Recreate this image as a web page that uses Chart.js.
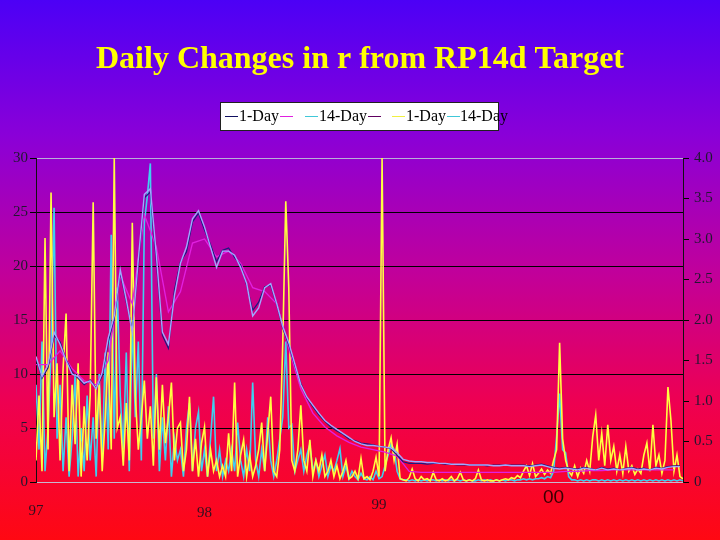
<!DOCTYPE html>
<html>
<head>
<meta charset="utf-8">
<script src="https://cdn.jsdelivr.net/npm/chart.js@4"></script>
<style>
  html, body { margin: 0; padding: 0; }
  #wrap {
    position: relative; width: 720px; height: 540px; overflow: hidden;
    background: linear-gradient(to bottom, #4c00f6 0%, #8a00d8 25%, #c0009c 50%, #ef0050 75%, #ff0812 100%);
  }
  #chart { position: absolute; left: 0; top: 0; }
  #legend {
    position: absolute; left: 220px; top: 102px; width: 277px; height: 27px;
    background: #fff; border: 1px solid #202020;
    font-family: 'Liberation Serif', serif; font-size: 16px; color: #000;
  }
  #legend .ln { position: absolute; top: 13px; width: 13px; height: 1px; }
  #legend .tx { position: absolute; top: 5px; line-height: 16px; white-space: nowrap; }
</style>
</head>
<body>
<div id="wrap">
  <canvas id="chart" width="720" height="540"></canvas>
  <div id="legend">
    <span class="ln" style="left:4px;background:#101060"></span><span class="tx" style="left:18px">1-Day</span>
    <span class="ln" style="left:59px;background:#e020e0"></span>
    <span class="ln" style="left:84px;background:#40c8d8"></span><span class="tx" style="left:98px">14-Day</span>
    <span class="ln" style="left:147px;background:#600060"></span>
    <span class="ln" style="left:171px;background:#f0f040"></span><span class="tx" style="left:185px">1-Day</span>
    <span class="ln" style="left:226px;background:#40c8d8"></span><span class="tx" style="left:239px">14-Day</span>
  </div>
</div>
<script>
/* Daily Changes in r from RP14d Target — 97..00 */

// x positions are sample indices; year ticks sit at these indices
const X_MAX = 215;
const yearLabels = ['97', '98', '99', '00'];
const yearIdx    = [0, 56, 114, 172];

// sample spacing (in index units) of each series
const SPIKE_STEP = 1;
const TRACE_STEP = 2;
const SMOOTH_STEP = 4;

// left axis (0-30): daily spikes
const yellow1Day = [
  2, 8, 1, 22.6, 3, 26.8, 6, 11, 2, 10.5,
  15.6, 1, 9, 3.5, 11, 0.5, 7, 2, 8, 25.9,
  4, 9, 1, 6, 12, 3, 30, 5, 6, 1.5,
  7.3, 2, 24, 8, 3, 6, 9.4, 4, 7, 1.5,
  9.7, 3, 9, 3.6, 6, 9.2, 2, 5, 5.5, 1,
  3, 7.9, 1, 4, 0.5, 3.6, 5.1, 0.5, 3, 1,
  2, 0.5, 1.5, 0.5, 4.5, 1, 9.2, 0.5, 2.5, 3.9,
  0.5, 2.5, 0.5, 1.5, 3, 5.5, 1, 4.5, 7.9, 1,
  0.5, 3, 12.9, 26, 18, 2, 1, 3, 7.1, 2,
  1, 3.9, 0.5, 2, 1, 2.5, 0.5, 1, 2, 0.5,
  1.5, 0.3, 1, 2, 0.3, 0.5, 1, 0.3, 2.2, 0.3,
  0.5, 0.2, 1, 2.3, 0.5, 30, 1, 3, 4.1, 2,
  3.5, 0.3, 0.2, 0.1, 0.4, 1.2, 0.3, 0.1, 0.5, 0.2,
  0.3, 0.1, 0.9, 0.2, 0.1, 0.3, 0.1, 0.2, 0.5, 0.1,
  0.3, 0.9, 0.2, 0.1, 0.2, 0.1, 0.3, 1.1, 0.2, 0.1,
  0.2, 0.1, 0.1, 0.2, 0.1, 0.2, 0.3, 0.2, 0.4, 0.3,
  0.6, 0.4, 1, 1.5, 0.6, 1.7, 0.5, 0.8, 1.2, 0.7,
  1.1, 0.8, 2, 3, 12.9, 4, 2, 1, 0.6, 1.5,
  0.5, 1.3, 0.8, 2, 1, 4.2, 6.2, 2, 4.5, 1.5,
  5.3, 2, 3.3, 1, 2.5, 0.8, 3.3, 1, 1.5, 0.7,
  1.2, 0.8, 2.5, 3.6, 1, 5.3, 1.5, 2.5, 0.8, 2,
  8.8, 5.7, 1, 2.5, 0.5, 0.3
];

const cyan14Day = [
  9, 3, 13, 1, 5, 12, 25.4, 4, 9, 1,
  6, 0.5, 4, 10, 0.5, 5, 1, 8, 2, 6,
  0.5, 10, 2, 12, 3, 22.9, 4, 18, 8, 3,
  12, 1, 15, 6, 13, 2, 24, 26.5, 29.5, 4,
  10, 1, 6, 2, 7, 0.5, 4, 2, 3, 0.5,
  5, 7.3, 1, 5, 6.5, 1, 3, 0.5, 4, 7.9,
  1, 3, 0.5, 2, 1, 3, 1, 5.5, 2, 0.5,
  3, 1, 9.2, 2, 0.5, 3, 1, 6, 2, 0.5,
  2, 4, 6, 13, 5, 5.3, 1, 2, 3, 1,
  2.5, 3.5, 1, 2, 0.5, 1.5, 2.5, 0.5, 1.5, 1,
  2, 3.1, 0.5, 1.5, 0.3, 1, 0.5, 0.2, 0.8, 0.3,
  0.2, 0.5, 0.2, 1, 0.3, 0.5, 1.5, 2.5, 3.5, 3,
  1, 0.3, 0.2, 0.2, 0.1, 0.2, 0.1, 0.2, 0.1, 0.2,
  0.1, 0.2, 0.2, 0.1, 0.2, 0.1, 0.2, 0.1, 0.2, 0.1,
  0.2, 0.1, 0.2, 0.1, 0.2, 0.1, 0.1, 0.2, 0.1, 0.2,
  0.1, 0.2, 0.1, 0.2, 0.1, 0.2, 0.1, 0.2, 0.2, 0.1,
  0.2, 0.2, 0.3, 0.2, 0.3, 0.2, 0.3, 0.3, 0.4, 0.3,
  0.5, 0.4, 1, 4.2, 8.2, 3, 2.7, 0.5, 0.2, 0.2,
  0.1, 0.2, 0.1, 0.2, 0.1, 0.2, 0.2, 0.1, 0.2, 0.1,
  0.2, 0.1, 0.2, 0.1, 0.2, 0.1, 0.2, 0.1, 0.2, 0.1,
  0.2, 0.1, 0.2, 0.1, 0.2, 0.1, 0.2, 0.1, 0.2, 0.1,
  0.2, 0.1, 0.2, 0.1, 0.2, 0.1
];

// right axis (0-4): running measures
const navy1Day = [
  1.53, 1.28, 1.41, 1.81, 1.73, 1.51, 1.36, 1.28, 1.2, 1.26,
  1.16, 1.31, 1.73, 2.02, 2.59, 2.22, 1.88, 2.68, 3.51, 3.58,
  2.72, 1.81, 1.65, 2.37, 2.72, 2.84, 3.21, 3.32, 3.11, 2.93,
  2.72, 2.86, 2.89, 2.77, 2.68, 2.43, 2.12, 2.22, 2.41, 2.43,
  2.19, 1.9, 1.69, 1.44, 1.22, 1.04, 0.93, 0.83, 0.75, 0.68,
  0.63, 0.59, 0.53, 0.51, 0.48, 0.47, 0.46, 0.44, 0.43, 0.41,
  0.33, 0.25, 0.23, 0.23, 0.23, 0.22, 0.23, 0.23, 0.22, 0.22,
  0.21, 0.21, 0.21, 0.21, 0.21, 0.2, 0.21, 0.21, 0.21, 0.21,
  0.21, 0.21, 0.2, 0.21, 0.22, 0.2, 0.18, 0.17, 0.18, 0.17,
  0.16, 0.18, 0.17, 0.15, 0.18, 0.16, 0.17, 0.15, 0.17, 0.18,
  0.16, 0.17, 0.15, 0.18, 0.17, 0.19, 0.2, 0.2
];

const lavender14Day = [
  1.55, 1.3, 1.45, 1.85, 1.7, 1.5, 1.33, 1.3, 1.22, 1.25,
  1.15, 1.35, 1.78, 2.05, 2.62, 2.25, 1.85, 2.75, 3.55, 3.62,
  2.8, 1.85, 1.7, 2.3, 2.7, 2.9, 3.25, 3.35, 3.15, 2.9,
  2.65, 2.85, 2.85, 2.8, 2.65, 2.45, 2.05, 2.15, 2.4, 2.45,
  2.2, 1.92, 1.72, 1.46, 1.2, 1.05, 0.95, 0.85, 0.76, 0.7,
  0.65, 0.6, 0.55, 0.5, 0.47, 0.45, 0.45, 0.44, 0.43, 0.42,
  0.36, 0.28, 0.26, 0.25, 0.25, 0.24, 0.24, 0.23, 0.23, 0.22,
  0.22, 0.22, 0.21, 0.21, 0.21, 0.21, 0.2, 0.2, 0.21, 0.2,
  0.2, 0.2, 0.19, 0.2, 0.21, 0.19, 0.17, 0.16, 0.17, 0.16,
  0.15, 0.17, 0.16, 0.15, 0.17, 0.15, 0.16, 0.15, 0.16, 0.17,
  0.15, 0.16, 0.15, 0.17, 0.16, 0.18, 0.19, 0.19
];

const magenta14Day = [
  1.45, 1.45, 1.62, 1.4, 1.25, 1.2, 1.5, 2.55, 2.2, 3.3,
  2.9, 2.1, 2.35, 2.95, 3.0, 2.78, 2.85, 2.7, 2.4, 2.35,
  2.2, 1.65, 1.15, 0.85, 0.68, 0.57, 0.49, 0.43, 0.4, 0.37,
  0.32, 0.13, 0.12, 0.12, 0.12, 0.12, 0.12, 0.12, 0.12, 0.12,
  0.12, 0.12, 0.12, 0.12, 0.13, 0.13, 0.14, 0.14, 0.15, 0.15,
  0.15, 0.15, 0.15, 0.15
];

const toXY = (vals, step) => vals.map((v, k) => ({ x: k * step, y: v }));

function lineSet(label, vals, step, color, axis, order, width) {
  return {
    label: label,
    data: toXY(vals, step),
    yAxisID: axis,
    borderColor: color,
    borderWidth: width,
    pointRadius: 0,
    tension: 0,
    fill: false,
    order: order,
  };
}

/* x tick labels: per-label font, lineHeight used to drop each label a bit */
const X_TICK_FONTS = [
  { family: "'Liberation Serif', serif", size: 15, lineHeight: '52px' },
  { family: "'Liberation Serif', serif", size: 15, lineHeight: '56px' },
  { family: "'Liberation Serif', serif", size: 15, lineHeight: '40px' },
  { family: "'Liberation Sans', sans-serif", size: 19, lineHeight: '26px' },
];

new Chart(document.getElementById('chart'), {
  type: 'line',
  data: {
    datasets: [
      lineSet('14-Day', lavender14Day, TRACE_STEP, '#a0a8ff', 'y1', 1, 1.4),
      lineSet('1-Day',  navy1Day,      TRACE_STEP, '#1a1a80', 'y1', 2, 1.2),
      lineSet('14-Day', magenta14Day,  SMOOTH_STEP, '#e020e0', 'y1', 3, 1.3),
      lineSet('1-Day',  yellow1Day,    SPIKE_STEP, '#ffff40', 'y', 4, 1.6),
      lineSet('14-Day', cyan14Day,     SPIKE_STEP, '#3fd0f0', 'y', 5, 1.6),
    ],
  },
  options: {
    responsive: false,
    animation: false,
    layout: { padding: 0 },
    plugins: {
      legend: { display: false },
      tooltip: { enabled: false },
      title: {
        display: true,
        text: 'Daily Changes in r from RP14d Target',
        color: '#ffff00',
        font: { family: "'Liberation Serif', serif", size: 32, weight: 'bold' },
        padding: { top: 41, bottom: 78.6 },
      },
    },
    scales: {
      x: {
        type: 'linear', min: 0, max: X_MAX,
        afterBuildTicks: s => { s.ticks = yearIdx.map(v => ({ value: v })); },
        afterFit: s => { s.height = 58; },
        grid: { display: false, drawTicks: false },
        border: { color: '#c8b8d0' },
        ticks: {
          autoSkip: false, maxRotation: 0, padding: 3,
          callback: (v, i) => yearLabels[i],
          font: ctx => X_TICK_FONTS[ctx.index] || X_TICK_FONTS[0],
          color: ctx => (ctx.index === 3 ? '#3a0000' : '#331020'),
        },
      },
      y: {
        position: 'left', min: 0, max: 30,
        afterFit: s => { s.width = 36; },
        border: { display: true, color: '#101010' },
        grid: {
          color: ctx => (ctx.tick && (ctx.tick.value === 30 || ctx.tick.value === 0) ? '#b8b0d8' : '#000000'),
          tickColor: '#000000', tickLength: 6,
        },
        ticks: {
          stepSize: 5, padding: 2, color: '#201830',
          font: { family: "'Liberation Serif', serif", size: 15 },
        },
      },
      y1: {
        position: 'right', min: 0, max: 4,
        afterFit: s => { s.width = 37; },
        border: { display: true, color: '#101010' },
        grid: { drawOnChartArea: false, tickColor: '#000000', tickLength: 6 },
        ticks: {
          stepSize: 0.5, padding: 5, color: '#201830',
          font: { family: "'Liberation Serif', serif", size: 15 },
        },
      },
    },
  },
});
</script>
</body>
</html>
